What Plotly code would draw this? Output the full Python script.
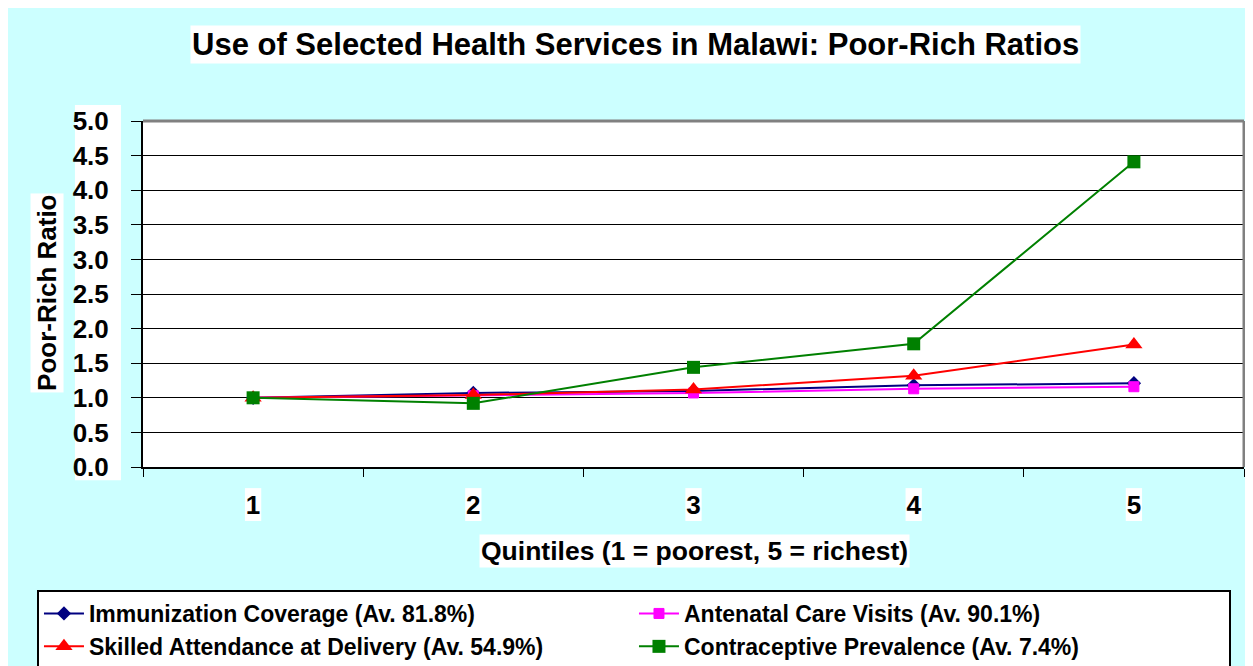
import plotly.graph_objects as go

quintiles = ["1", "2", "3", "4", "5"]
immunization = [1.00, 1.07, 1.10, 1.18, 1.21]
antenatal = [1.00, 1.03, 1.07, 1.13, 1.16]
skilled = [1.00, 1.04, 1.12, 1.32, 1.77]
contraceptive = [1.00, 0.92, 1.44, 1.78, 4.41]

names = [
    "Immunization Coverage (Av. 81.8%)",
    "Antenatal Care Visits (Av. 90.1%)",
    "Skilled Attendance at Delivery (Av. 54.9%)",
    "Contraceptive Prevalence (Av. 7.4%)",
]
y_ticks = [0, 0.5, 1, 1.5, 2, 2.5, 3, 3.5, 4, 4.5, 5]

FONT = "Liberation Sans, Arial, sans-serif"

fig = go.Figure()
fig.add_trace(go.Scatter(x=quintiles, y=immunization, name=names[0], mode="lines+markers",
                         line=dict(color="#000080", width=2),
                         marker=dict(symbol="diamond", size=11, color="#000080")))
fig.add_trace(go.Scatter(x=quintiles, y=antenatal, name=names[1], mode="lines+markers",
                         line=dict(color="#FF00FF", width=2),
                         marker=dict(symbol="square", size=10, color="#FF00FF",
                                     line=dict(color="#FF00FF", width=1))))
fig.add_trace(go.Scatter(x=quintiles, y=skilled, name=names[2], mode="lines+markers",
                         line=dict(color="#FF0000", width=2),
                         marker=dict(symbol="triangle-up", size=15, color="#FF0000")))
fig.add_trace(go.Scatter(x=quintiles, y=contraceptive, name=names[3], mode="lines+markers",
                         line=dict(color="#008000", width=2),
                         marker=dict(symbol="square", size=13, color="#008000")))

# white label backgrounds (Excel-style)
fig.add_shape(type="rect", xref="paper", yref="paper", x0=-0.0618, x1=-0.020, y0=-0.038, y1=1.046,
              fillcolor="white", line_width=0, layer="below")
for i in range(len(quintiles)):
    fig.add_shape(type="rect", xref="x", yref="paper", x0=i - 0.037, x1=i + 0.037,
                  y0=-0.156, y1=-0.061, fillcolor="white", line_width=0, layer="below")
# gray plot-area border (top and right)
fig.add_shape(type="line", xref="paper", yref="paper", x0=0, x1=1, y0=1, y1=1,
              line=dict(color="#808080", width=3), layer="above")
fig.add_shape(type="line", xref="paper", yref="paper", x0=1, x1=1, y0=0, y1=1,
              line=dict(color="#808080", width=3), layer="above")

fig.update_layout(
    width=1245, height=658,
    paper_bgcolor="#CCFFFF", plot_bgcolor="white",
    margin=dict(l=135, r=9, t=113, b=199, autoexpand=False),
    font=dict(family=FONT, color="black", size=20),
    showlegend=True,
    legend=dict(orientation="h", x=-0.0963, y=-0.3555, xanchor="left", yanchor="top",
                bgcolor="white", bordercolor="black", borderwidth=2,
                font=dict(family=FONT, size=23, color="black", weight="bold"),
                entrywidth=540, entrywidthmode="pixels", itemwidth=40),
    annotations=[
        dict(text="<b>Use of Selected Health Services in Malawi: Poor-Rich Ratios</b>",
             xref="paper", yref="paper", x=0.447, y=1.220, xanchor="center", yanchor="middle",
             showarrow=False, bgcolor="white", font=dict(size=31, family=FONT)),
        dict(text="<b>Quintiles (1 = poorest, 5 = richest)</b>",
             xref="paper", yref="paper", x=0.501, y=-0.243, xanchor="center", yanchor="middle",
             showarrow=False, bgcolor="white", font=dict(size=26.5, family=FONT)),
        dict(text="<b>Poor-Rich Ratio</b>", textangle=-90,
             xref="paper", yref="paper", x=-0.0872, y=0.503, xanchor="center", yanchor="middle",
             showarrow=False, bgcolor="white", font=dict(size=26, family=FONT)),
    ],
)
fig.update_xaxes(type="category", range=[-0.5, 4.5], tickson="boundaries", ticks="outside",
                 ticklen=8, tickcolor="black", showline=True, linecolor="black", linewidth=2,
                 showgrid=False, ticklabelstandoff=14, automargin=False,
                 tickfont=dict(size=26, family=FONT, weight="bold"))
fig.update_yaxes(range=[0, 5], tickvals=y_ticks, ticktext=[f"{v:.1f}" for v in y_ticks],
                 ticks="outside", ticklen=10, tickcolor="black",
                 showline=True, linecolor="black", linewidth=2, mirror=False,
                 showgrid=True, gridcolor="black", gridwidth=1, zeroline=False,
                 ticklabelstandoff=17, automargin=False,
                 tickfont=dict(size=26, family=FONT, weight="bold"))

fig.write_html("out.html")
